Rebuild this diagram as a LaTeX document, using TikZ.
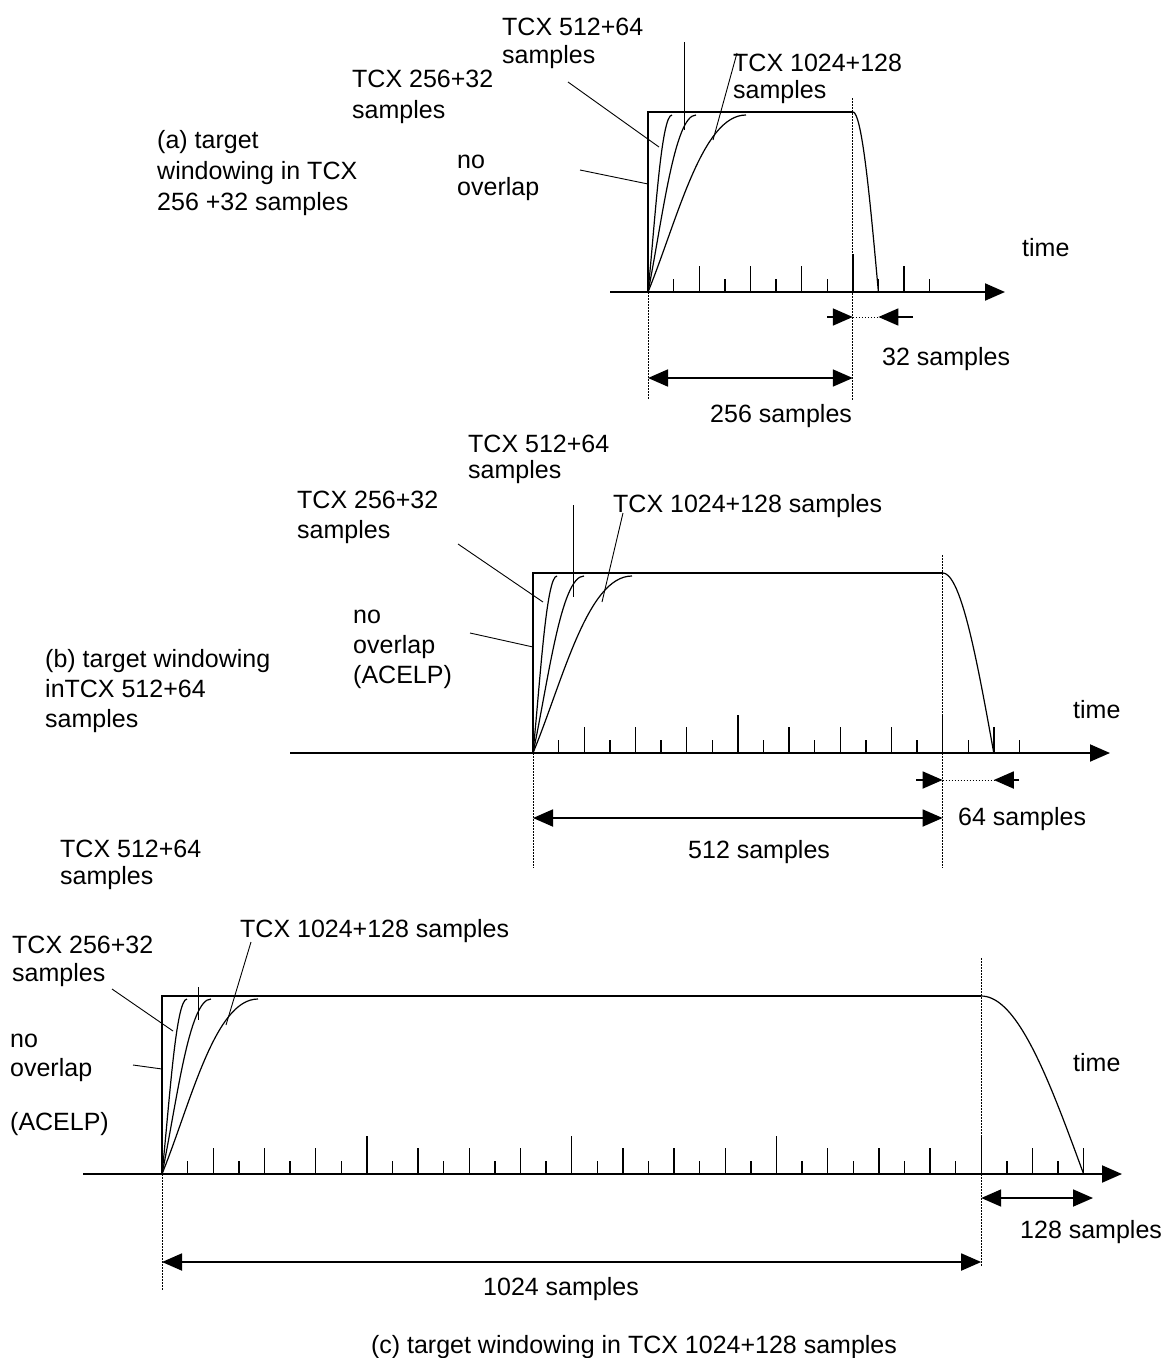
\documentclass[tikz,border=0pt]{standalone}
\usepackage{fontspec}
\setmainfont{Liberation Sans}
\usetikzlibrary{arrows.meta}
\newcommand{\lblfont}[1][29]{\fontsize{25}{#1}\selectfont}
\tikzset{
  wnlabel/.style={font=\lblfont,align=left,inner sep=0pt,anchor=north west},
  wnword/.style={font=\lblfont,inner sep=0pt,anchor=base west},
  wnaxis/.style={-{Triangle[length=20pt,width=17pt]},line width=2pt},
  wndim/.style={{Triangle[length=20pt,width=17pt]}-{Triangle[length=20pt,width=17pt]},line width=1.8pt},
  wnhalf/.style={-{Triangle[length=20pt,width=17pt]},line width=1.8pt},
  wnedge/.style={line width=1.6pt},
  wnslope/.style={line width=1.2pt},
  wntick/.style={line width=1.4pt},
  wnlead/.style={line width=0.9pt},
  wnguide/.style={line width=1pt,dash pattern=on 1.5pt off 1.5pt},
}

\begin{document}
\begin{tikzpicture}[x=1pt,y=-1pt]
\useasboundingbox (0,0) rectangle (1167,1358);

% (a) window for TCX 256+32
\draw[wnaxis] (610,292) -- (1005,292);
\foreach \k in {1,...,11} {
  \pgfmathsetmacro{\th}{mod(\k,8)==0 ? 38 : (mod(\k,2)==0 ? 26 : 13)}
  \draw[wntick] (648+25.6*\k,292) -- ++(0,-\th);
}
\draw[wnedge] (648,292) |- (852.8,112);
\draw[wnslope] plot[domain=0:1,samples=30] ({852.8+25.6*\x},{112+180*(1-cos(90*\x))});
\foreach \w in {24,48,98}
  \draw[wnslope] (648,292) .. controls +(0.3*\w,-72) and +(-0.45*\w,0) .. (648+\w,115);
\draw[wnguide] (648,292) -- (648,400);
\draw[wnguide] (852.8,98) -- (852.8,400);

\node[wnlabel,font={\lblfont[28]}] (a512) at (502,15.4) {\strut TCX 512+64\\samples};
\node[wnlabel,font={\lblfont[31]}] (a256) at (352,65.3) {\strut TCX 256+32\\samples};
\node[wnlabel,font={\lblfont[27]}] (a1024) at (733,52.1) {\strut TCX 1024+128\\samples};
\node[wnlabel,font={\lblfont[27]}] (anone) at (457,149.1) {\strut no\\overlap};
\node[wnlabel,font={\lblfont[31]}] (atitle) at (157,126.3) {\strut (a) target\\windowing in TCX\\256 +32 samples};
\node[wnword] (atime) at (1022,256) {time};
\node[wnword] (a32t) at (882,365) {32 samples};
\node[wnword] (a256t) at (710,422) {256 samples};

\coordinate (a256s) at (568,82);   \coordinate (a256e) at (659,147);
\coordinate (a512s) at (684,42);   \coordinate (a512e) at (684,130);
\coordinate (a1024s) at (737,53);  \coordinate (a1024e) at (713,140);
\coordinate (anones) at (580,170); \coordinate (anonee) at (648,184);
\draw[wnlead] (a256s) -- (a256e);
\draw[wnlead] (a512s) -- (a512e);
\draw[wnlead] (a1024s) -- (a1024e);
\draw[wnlead] (anones) -- (anonee);

\coordinate (adl) at (648,378);   \coordinate (adr) at (852.8,378);
\draw[wndim] (adl) -- (adr);
\coordinate (aol) at (827,317);   \coordinate (aom) at (852.8,317);
\coordinate (aon) at (878.4,317); \coordinate (aor) at (913,317);
\draw[wnhalf] (aol) -- (aom);
\draw[wnhalf] (aor) -- (aon);
\draw[wnguide] (aom) -- (aon);

% (b) window for TCX 512+64
\draw[wnaxis] (290,753) -- (1110,753);
\foreach \k in {1,...,19} {
  \pgfmathsetmacro{\th}{mod(\k,8)==0 ? 38 : (mod(\k,2)==0 ? 26 : 13)}
  \draw[wntick] (533+25.6*\k,753) -- ++(0,-\th);
}
\draw[wnedge] (533,753) |- (942.6,573);
\draw[wnslope] plot[domain=0:1,samples=30] ({942.6+51.2*\x},{573+180*(1-cos(90*\x))});
\foreach \w in {24,51,99}
  \draw[wnslope] (533,753) .. controls +(0.3*\w,-72) and +(-0.45*\w,0) .. (533+\w,576);
\draw[wnguide] (533,753) -- (533,868);
\draw[wnguide] (942.6,555) -- (942.6,868);

\node[wnlabel,font={\lblfont[26]}] (b512) at (468,433.8) {\strut TCX 512+64\\samples};
\node[wnlabel,font={\lblfont[30]}] (b256) at (297,487) {\strut TCX 256+32\\samples};
\node[wnword] (b1024) at (613,512) {TCX 1024+128 samples};
\node[wnlabel,font={\lblfont[30]}] (bnone) at (353,602) {\strut no\\overlap\\(ACELP)};
\node[wnlabel,font={\lblfont[30]}] (btitle) at (45,646) {\strut (b) target windowing\\inTCX 512+64\\samples};
\node[wnword] (btime) at (1073,718) {time};
\node[wnword] (b64t) at (958,825) {64 samples};
\node[wnword] (b512t) at (688,858) {512 samples};

\coordinate (b256s) at (458,544);  \coordinate (b256e) at (543,602);
\coordinate (b512s) at (573,505);  \coordinate (b512e) at (573,597);
\coordinate (b1024s) at (623,513); \coordinate (b1024e) at (602,602);
\coordinate (bnones) at (470,633); \coordinate (bnonee) at (533,647);
\draw[wnlead] (b256s) -- (b256e);
\draw[wnlead] (b512s) -- (b512e);
\draw[wnlead] (b1024s) -- (b1024e);
\draw[wnlead] (bnones) -- (bnonee);

\coordinate (bdl) at (533,818);   \coordinate (bdr) at (942.6,818);
\draw[wndim] (bdl) -- (bdr);
\coordinate (bol) at (916,780);   \coordinate (bom) at (942.6,780);
\coordinate (bon) at (993.8,780); \coordinate (bor) at (1019,780);
\draw[wnhalf] (bol) -- (bom);
\draw[wnhalf] (bor) -- (bon);
\draw[wnguide] (bom) -- (bon);

% (c) window for TCX 1024+128
\draw[wnaxis] (83,1174) -- (1122,1174);
\foreach \k in {1,...,36} {
  \pgfmathsetmacro{\th}{mod(\k,8)==0 ? 38 : (mod(\k,2)==0 ? 26 : 13)}
  \draw[wntick] (162+25.6*\k,1174) -- ++(0,-\th);
}
\draw[wnedge] (162,1174) |- (981.2,996);
\draw[wnslope] plot[domain=0:1,samples=40] ({981.2+102.4*\x},{996+178*(1-cos(90*\x))});
\foreach \w in {25,49,96}
  \draw[wnslope] (162,1174) .. controls +(0.3*\w,-71) and +(-0.45*\w,0) .. (162+\w,999);
\draw[wnguide] (162,1174) -- (162,1290);
\draw[wnguide] (981.2,958) -- (981.2,1267);

\node[wnlabel,font={\lblfont[27]}] (c512) at (60,838.1) {\strut TCX 512+64\\samples};
\node[wnword] (c1024) at (240,937) {TCX 1024+128 samples};
\node[wnlabel,font={\lblfont[28]}] (c256) at (12,933.4) {\strut TCX 256+32\\samples};
\node[wnlabel,font={\lblfont[29]}] (cnone) at (10,1026.7) {\strut no\\overlap\\[25pt](ACELP)};
\node[wnword] (ctime) at (1073,1071) {time};
\node[wnword] (c128t) at (1020,1238) {128 samples};
\node[wnword] (c1024t) at (483,1295) {1024 samples};
\node[wnword,anchor=base] (ctitle) at (634,1353) {(c) target windowing in TCX 1024+128 samples};

\coordinate (c256s) at (112,989);   \coordinate (c256e) at (173,1031);
\coordinate (c512s) at (198,987);   \coordinate (c512e) at (198,1020);
\coordinate (c1024s) at (251,942);  \coordinate (c1024e) at (226,1025);
\coordinate (cnones) at (133,1065); \coordinate (cnonee) at (162,1069);
\draw[wnlead] (c256s) -- (c256e);
\draw[wnlead] (c512s) -- (c512e);
\draw[wnlead] (c1024s) -- (c1024e);
\draw[wnlead] (cnones) -- (cnonee);

\coordinate (cdl) at (162,1262);   \coordinate (cdr) at (981.2,1262);
\draw[wndim] (cdl) -- (cdr);
\coordinate (col) at (981.2,1198); \coordinate (cor) at (1093,1198);
\draw[wndim] (col) -- (cor);
\end{tikzpicture}
\end{document}
